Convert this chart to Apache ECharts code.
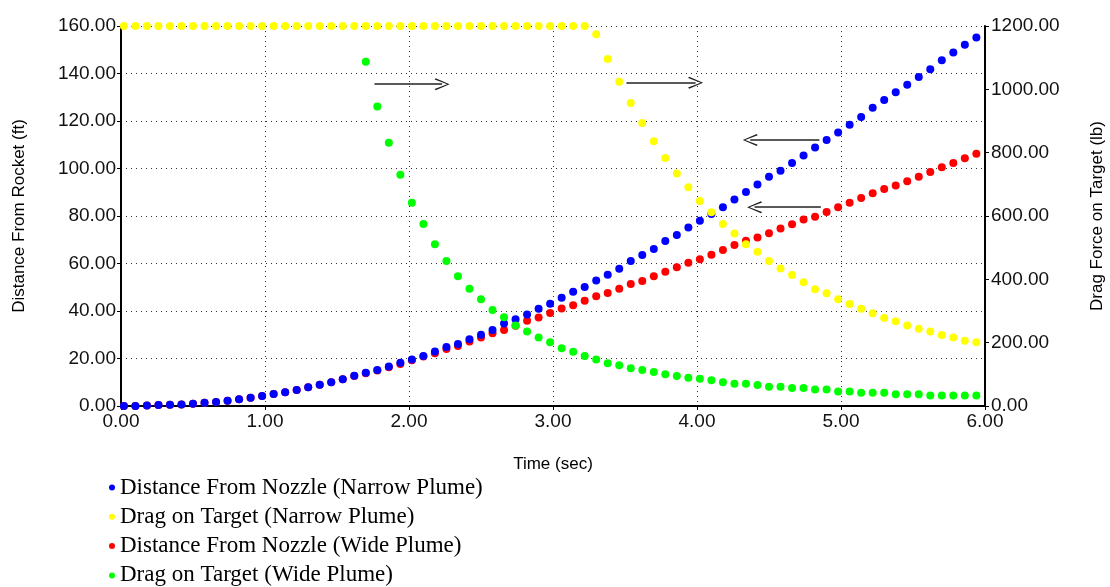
<!DOCTYPE html>
<html>
<head>
<meta charset="utf-8">
<title>Distance and Drag vs Time</title>
<script src="https://cdn.jsdelivr.net/npm/echarts@6.0.0/dist/echarts.min.js"></script>
<style>
  html, body { margin: 0; padding: 0; background: #fff; }
  #chart { width: 1110px; height: 587px; }
</style>
</head>
<body>
<div id="chart"></div>
<script>
// sample times (sec)
const times = [
  0.02, 0.10, 0.18, 0.26, 0.34, 0.42, 0.50, 0.58, 0.66, 0.74,
  0.82, 0.90, 0.98, 1.06, 1.14, 1.22, 1.30, 1.38, 1.46, 1.54,
  1.62, 1.70, 1.78, 1.86, 1.94, 2.02, 2.10, 2.18, 2.26, 2.34,
  2.42, 2.50, 2.58, 2.66, 2.74, 2.82, 2.90, 2.98, 3.06, 3.14,
  3.22, 3.30, 3.38, 3.46, 3.54, 3.62, 3.70, 3.78, 3.86, 3.94,
  4.02, 4.10, 4.18, 4.26, 4.34, 4.42, 4.50, 4.58, 4.66, 4.74,
  4.82, 4.90, 4.98, 5.06, 5.14, 5.22, 5.30, 5.38, 5.46, 5.54,
  5.62, 5.70, 5.78, 5.86, 5.94
]

// distance from nozzle, narrow plume (ft)
const distNarrow = [
  0, 0, 0.2, 0.4, 0.5, 0.6, 1.0, 1.4, 1.7, 2.2,
  2.8, 3.5, 4.2, 5.1, 5.8, 6.7, 7.9, 9.0, 10.0, 11.3,
  12.7, 14.0, 15.2, 16.6, 18.2,
  19.6, 21.1, 22.9, 24.8, 26.1, 28.1, 30.0, 32.0, 34.7, 36.5,
  38.5, 41.0, 43.1, 45.6, 48.1, 50.1, 52.8, 55.3, 57.8, 61.1,
  63.6, 66.1, 69.5, 72.0, 75.2, 78.0,
  80.8, 83.7, 87.0, 90.1, 93.3, 96.5, 99.1, 102.3, 105.5, 108.8,
  112.0, 115.2, 118.4, 121.7, 125.6, 128.8, 132.1, 135.3, 138.5, 141.8,
  145.6, 148.8, 152.1, 155.2
]

// drag on target, narrow plume (lb)
const dragNarrow = [
  1200, 1200, 1200, 1200, 1200, 1200, 1200, 1200, 1200, 1200,
  1200, 1200, 1200, 1200, 1200, 1200, 1200, 1200, 1200, 1200,
  1200, 1200, 1200, 1200, 1200, 1200, 1200, 1200, 1200, 1200,
  1200, 1200, 1200, 1200, 1200, 1200, 1200, 1200, 1200, 1200,
  1200,
  1174, 1096, 1024, 957, 894, 836, 783, 734, 691, 647,
  612, 575, 545, 511, 487, 458, 434, 414, 391, 369,
  356, 337, 322, 307, 293, 278, 268, 254, 244, 235,
  224, 216, 206, 201
]

// distance from nozzle, wide plume (ft)
const distWide = [
  0, 0, 0.2, 0.4, 0.5, 0.6, 1.0, 1.4, 1.7, 2.2,
  2.8, 3.5, 4.2, 5.1, 5.8, 6.7, 7.9, 9.0, 10.0, 11.3,
  12.6, 13.8, 15.0, 16.3,
  17.7, 19.3, 20.8, 22.2, 24.0, 25.3, 27.2, 28.8, 30.6, 32.0,
  33.8, 35.9, 37.3, 39.2, 41.1, 42.4, 44.3, 46.2, 47.6, 49.4,
  51.4, 52.6, 54.6, 56.5, 58.4, 60.3, 61.8, 63.7,
  65.7, 67.8, 69.6, 70.9, 72.7, 74.7, 76.5, 78.5, 79.7, 81.7,
  83.7, 85.6, 87.6, 89.6, 91.4, 92.8, 94.6, 96.5, 98.5, 100.5,
  102.3, 104.3, 106.2
]

// drag on target, wide plume (lb)
const dragWide = [
  null, null, null, null, null, null, null, null, null, null,
  null, null, null, null, null, null, null, null, null, null,
  null,
  1087, 946, 831, 730, 642, 575, 511, 458, 410, 370,
  337, 303, 280, 254, 235, 216, 201, 182, 171, 158,
  147, 135, 129, 119, 114, 107, 100, 95, 89, 86,
  81, 75, 70, 70, 66, 61, 61, 57, 57, 52,
  52, 46, 46, 42, 42, 42, 37, 37, 37, 33,
  33, 33, 33, 33
]

const seriesNames = [
  'Distance From Nozzle (Narrow Plume)',
  'Drag on Target (Narrow Plume)',
  'Distance From Nozzle (Wide Plume)',
  'Drag on Target (Wide Plume)'
]

// annotation arrows [t start, t end, distance ft]
const arrowsRight = [[1.76, 2.23, 135.5], [3.51, 3.99, 136.1]]
const arrowsLeft = [[4.85, 4.37, 112.0], [4.86, 4.40, 83.7]]

const sansFont = 'Liberation Sans'
const chevron = 'path://M5,0 L10,10 L9,10.8 L5,1.8 L1,10.8 L0,10 Z'

function pairs(values) {
  return times.map((t, i) => [t, values[i]])
}

const chartDom = document.getElementById('chart')
const chart = echarts.init(chartDom)

const fixed2 = (v) => v.toFixed(2)

const axisLineStyle = { show: true, lineStyle: { color: '#000', width: 2 } }
const tickStyle = { show: true, length: 4, lineStyle: { color: '#000', width: 1 } }
const labelStyle = { fontFamily: sansFont, fontSize: 19, color: '#111', formatter: fixed2 }
const dotted = { show: true, lineStyle: { color: '#333', width: 1, type: [1, 4] } }

const arrowLines = arrowsRight.concat(arrowsLeft).map(a => [
  { coord: [a[0], a[2]] },
  { coord: [a[1], a[2]] }
])

const option = {
  animation: false,
  backgroundColor: '#fff',
  grid: {
    left: 121, right: 125, top: 26, bottom: 181,
    containLabel: false,
    outerBoundsMode: 'none'
  },
  legend: {
    data: seriesNames,
    orient: 'vertical',
    left: 109,
    top: 476,
    height: 120,
    padding: 0,
    icon: 'circle',
    itemWidth: 6,
    itemHeight: 6,
    itemGap: 6.3,
    selectedMode: false,
    textStyle: { fontFamily: 'Liberation Serif', fontSize: 23, color: '#000', lineHeight: 22 }
  },
  xAxis: {
    type: 'value',
    min: 0,
    max: 6,
    interval: 1,
    name: 'Time (sec)',
    nameLocation: 'middle',
    nameGap: 50,
    nameTextStyle: { fontFamily: sansFont, fontSize: 17, color: '#000' },
    axisLine: axisLineStyle,
    axisTick: tickStyle,
    axisLabel: Object.assign({ margin: 6 }, labelStyle),
    splitLine: dotted
  },
  yAxis: [
    {
      type: 'value',
      min: 0,
      max: 160,
      interval: 20,
      name: 'Distance From Rocket (ft)',
      nameLocation: 'middle',
      nameRotate: 90,
      nameGap: 93,
      nameTextStyle: { fontFamily: sansFont, fontSize: 17, color: '#000' },
      axisLine: axisLineStyle,
      axisTick: tickStyle,
      axisLabel: Object.assign({ margin: 5 }, labelStyle),
      splitLine: dotted
    },
    {
      type: 'value',
      min: 0,
      max: 1200,
      interval: 200,
      position: 'right',
      name: 'Drag Force on Target (lb)',
      nameLocation: 'middle',
      nameRotate: 90,
      nameGap: 104,
      nameTextStyle: { fontFamily: sansFont, fontSize: 17, color: '#000' },
      axisLine: axisLineStyle,
      axisTick: tickStyle,
      axisLabel: Object.assign({ margin: 6 }, labelStyle),
      splitLine: { show: false }
    }
  ],
  series: [
    {
      name: seriesNames[2],
      type: 'scatter',
      yAxisIndex: 0,
      symbolSize: 8,
      itemStyle: { color: '#ff0000', opacity: 1 },
      data: pairs(distWide)
    },
    {
      name: seriesNames[0],
      type: 'scatter',
      yAxisIndex: 0,
      symbolSize: 8,
      itemStyle: { color: '#0000ff', opacity: 1 },
      data: pairs(distNarrow),
      markLine: {
        silent: true,
        animation: false,
        symbol: ['none', chevron],
        symbolSize: [12, 15],
        label: { show: false },
        lineStyle: { color: '#222', width: 1.5, type: 'solid', opacity: 1 },
        data: arrowLines
      }
    },
    {
      name: seriesNames[1],
      type: 'scatter',
      yAxisIndex: 1,
      symbolSize: 8,
      itemStyle: { color: '#ffff00', opacity: 1 },
      data: pairs(dragNarrow)
    },
    {
      name: seriesNames[3],
      type: 'scatter',
      yAxisIndex: 1,
      symbolSize: 8,
      itemStyle: { color: '#00ff00', opacity: 1 },
      data: pairs(dragWide).filter(p => p[1] !== null)
    }
  ]
}

chart.setOption(option)
</script>
</body>
</html>
